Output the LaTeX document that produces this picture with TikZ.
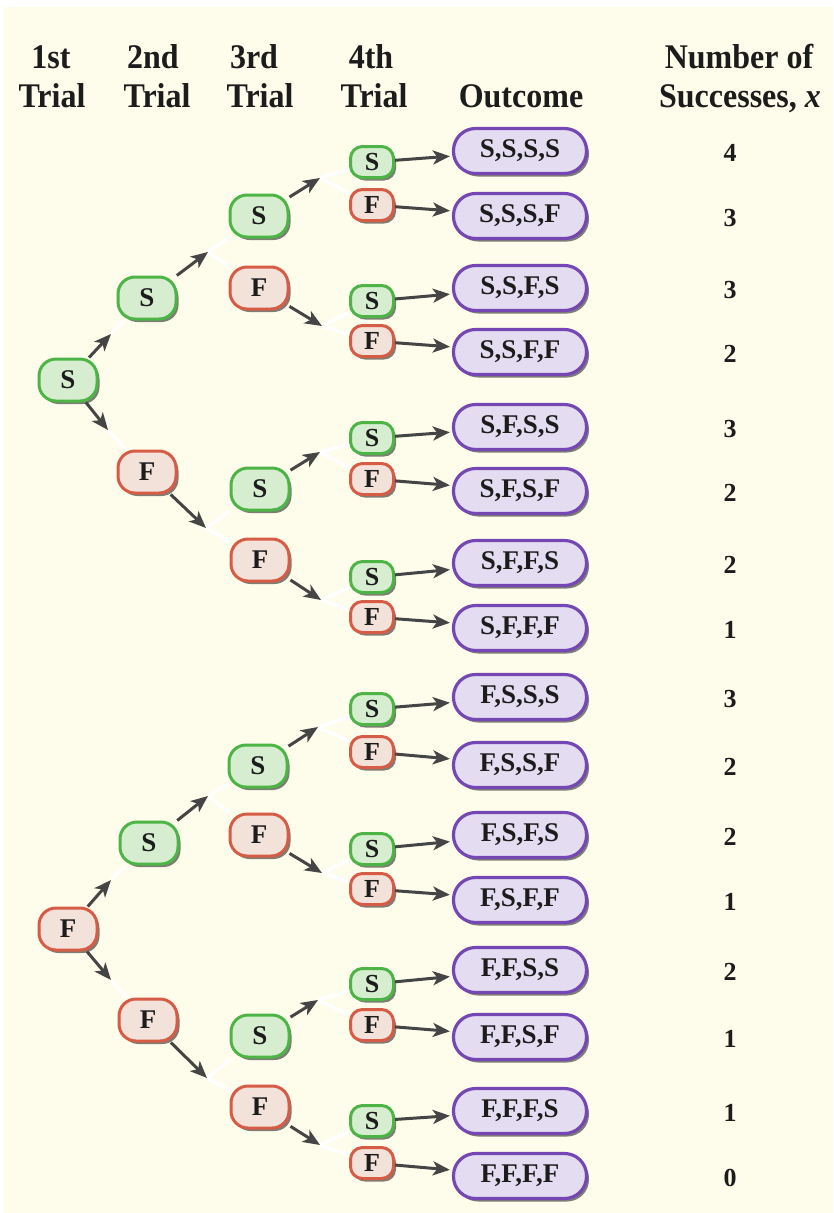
\documentclass[tikz,border=0pt]{standalone}
\usepackage{fontspec}
\setmainfont{Liberation Serif}
\usetikzlibrary{arrows.meta,shadows}
\definecolor{bg}{HTML}{FEFCEB}
\definecolor{gborder}{HTML}{4DB545}
\definecolor{gfill}{HTML}{D6EDD0}
\definecolor{rborder}{HTML}{D65C45}
\definecolor{rfill}{HTML}{F2E2DA}
\definecolor{pborder}{HTML}{7447B3}
\definecolor{pfill}{HTML}{E4DDF2}
\definecolor{txt}{HTML}{1C1C1C}
\definecolor{arrcol}{HTML}{454545}
\newcommand\hdtxt[1]{\scalebox{1}[1.08]{#1}}
\begin{document}
\begin{tikzpicture}[x=1pt,y=-1pt,
  box/.style={line width=3pt, inner sep=0pt, text=txt,
    font=\bfseries\fontsize{27}{29}\selectfont,
    drop shadow={shadow xshift=2.5pt,shadow yshift=-3pt,fill=black,opacity=.5}},
  bigbox/.style={box, minimum width=58pt, minimum height=42pt, rounded corners=17pt},
  smallbox/.style={box, minimum width=43pt, minimum height=31pt, rounded corners=12pt,
    font=\bfseries\fontsize{26}{28}\selectfont},
  sn/.style={draw=gborder, fill=gfill},
  fn/.style={draw=rborder, fill=rfill},
  outc/.style={box, draw=pborder, fill=pfill, minimum width=133pt, minimum height=45pt,
    rounded corners=22pt, line width=3.2pt, font=\bfseries\fontsize{27}{29}\selectfont},
  numtxt/.style={text=txt, font=\bfseries\fontsize{26}{28}\selectfont},
  hdr/.style={text=txt, anchor=base, inner sep=0pt, font=\bfseries\fontsize{32}{36}\selectfont},
  arr/.style={draw=arrcol, line width=3pt, -{Stealth[length=17pt,width=14pt,inset=4.5pt]}},
  wl/.style={draw=white, line width=3.5pt}
]
\useasboundingbox (0,0) rectangle (833,1213);
\fill[white] (0,0) rectangle (833,1213);
\fill[bg] (4,7) rectangle (833,1213);

% headers
\node[hdr] (h1a) at (51,68) {\hdtxt{1st}};
\node[hdr] (h1b) at (52,107) {\hdtxt{Trial}};
\node[hdr] (h2a) at (153,68) {\hdtxt{2nd}};
\node[hdr] (h2b) at (157,107) {\hdtxt{Trial}};
\node[hdr] (h3a) at (254,68) {\hdtxt{3rd}};
\node[hdr] (h3b) at (260,107) {\hdtxt{Trial}};
\node[hdr] (h4a) at (371,68) {\hdtxt{4th}};
\node[hdr] (h4b) at (374,107) {\hdtxt{Trial}};
\node[hdr] (h5) at (521,107) {\hdtxt{Outcome}};
\node[hdr] (h6a) at (739,68) {\hdtxt{Number of}};
\node[hdr] (h6b) at (740,107) {\hdtxt{Successes, \textit{x}}};

% level 1
\node[bigbox,sn] (a1) at (68,380) {S};
\node[bigbox,fn] (a2) at (68,929) {F};
% level 2
\node[bigbox,sn] (b1) at (147,298) {S};
\node[bigbox,fn] (b2) at (147,472) {F};
\node[bigbox,sn] (b3) at (149,843) {S};
\node[bigbox,fn] (b4) at (148,1020) {F};
% level 3
\node[bigbox,sn] (c1) at (259,216) {S};
\node[bigbox,fn] (c2) at (259,288) {F};
\node[bigbox,sn] (c3) at (260,489) {S};
\node[bigbox,fn] (c4) at (260,560) {F};
\node[bigbox,sn] (c5) at (258,766) {S};
\node[bigbox,fn] (c6) at (259,835) {F};
\node[bigbox,sn] (c7) at (260,1036) {S};
\node[bigbox,fn] (c8) at (260,1107) {F};
% level 4
\node[smallbox,sn] (d1) at (372,162) {S};
\node[smallbox,fn] (d2) at (372,205) {F};
\node[smallbox,sn] (d3) at (372,301) {S};
\node[smallbox,fn] (d4) at (372,341) {F};
\node[smallbox,sn] (d5) at (372,438) {S};
\node[smallbox,fn] (d6) at (372,479) {F};
\node[smallbox,sn] (d7) at (372,577) {S};
\node[smallbox,fn] (d8) at (372,617) {F};
\node[smallbox,sn] (d9) at (372,709) {S};
\node[smallbox,fn] (d10) at (372,752) {F};
\node[smallbox,sn] (d11) at (372,849) {S};
\node[smallbox,fn] (d12) at (372,889) {F};
\node[smallbox,sn] (d13) at (372,984) {S};
\node[smallbox,fn] (d14) at (372,1025) {F};
\node[smallbox,sn] (d15) at (372,1121) {S};
\node[smallbox,fn] (d16) at (372,1163) {F};

% outcomes and numbers
\foreach \i/\y/\t/\n in {1/151/{S,S,S,S}/4, 2/216/{S,S,S,F}/3, 3/288/{S,S,F,S}/3, 4/352/{S,S,F,F}/2,
  5/427/{S,F,S,S}/3, 6/491/{S,F,S,F}/2, 7/563/{S,F,F,S}/2, 8/628/{S,F,F,F}/1,
  9/697/{F,S,S,S}/3, 10/765/{F,S,S,F}/2, 11/835/{F,S,F,S}/2, 12/900/{F,S,F,F}/1,
  13/970/{F,F,S,S}/2, 14/1037/{F,F,S,F}/1, 15/1111/{F,F,F,S}/1, 16/1176/{F,F,F,F}/0}{
  \node[outc] (o\i) at (520,\y) {\t};
  \node[numtxt] (n\i) at (730,\y+2) {\n};
}

% fork points
\coordinate (fa1) at (111,334);
\coordinate (fa2) at (108,430);
\coordinate (fa3) at (111,880);
\coordinate (fa4) at (111,980);
\coordinate (fb1) at (208,252);
\coordinate (fb2) at (206,528);
\coordinate (fb3) at (208,796);
\coordinate (fb4) at (207,1078);
\coordinate (fc1) at (320,178);
\coordinate (fc2) at (322,326);
\coordinate (fc3) at (320,452);
\coordinate (fc4) at (321,600);
\coordinate (fc5) at (318,727);
\coordinate (fc6) at (322,873);
\coordinate (fc7) at (318,1000);
\coordinate (fc8) at (320,1145);

% white continuation lines
\draw[wl] (fa1) -- (b1);
\draw[wl] (fa2) -- (b2);
\draw[wl] (fa3) -- (b3);
\draw[wl] (fa4) -- (b4);
\draw[wl] (fb1) -- (c1); \draw[wl] (fb1) -- (c2);
\draw[wl] (fb2) -- (c3); \draw[wl] (fb2) -- (c4);
\draw[wl] (fb3) -- (c5); \draw[wl] (fb3) -- (c6);
\draw[wl] (fb4) -- (c7); \draw[wl] (fb4) -- (c8);
\draw[wl] (fc1) -- (d1); \draw[wl] (fc1) -- (d2);
\draw[wl] (fc2) -- (d3); \draw[wl] (fc2) -- (d4);
\draw[wl] (fc3) -- (d5); \draw[wl] (fc3) -- (d6);
\draw[wl] (fc4) -- (d7); \draw[wl] (fc4) -- (d8);
\draw[wl] (fc5) -- (d9); \draw[wl] (fc5) -- (d10);
\draw[wl] (fc6) -- (d11); \draw[wl] (fc6) -- (d12);
\draw[wl] (fc7) -- (d13); \draw[wl] (fc7) -- (d14);
\draw[wl] (fc8) -- (d15); \draw[wl] (fc8) -- (d16);

% arrows
\draw[arr] (a1) -- (fa1);
\draw[arr] (a1) -- (fa2);
\draw[arr] (a2) -- (fa3);
\draw[arr] (a2) -- (fa4);
\draw[arr] (b1) -- (fb1);
\draw[arr] (b2) -- (fb2);
\draw[arr] (b3) -- (fb3);
\draw[arr] (b4) -- (fb4);
\draw[arr] (c1) -- (fc1);
\draw[arr] (c2) -- (fc2);
\draw[arr] (c3) -- (fc3);
\draw[arr] (c4) -- (fc4);
\draw[arr] (c5) -- (fc5);
\draw[arr] (c6) -- (fc6);
\draw[arr] (c7) -- (fc7);
\draw[arr] (c8) -- (fc8);
\foreach \i in {1,...,16}{
  \draw[arr, shorten >=2pt] (d\i) -- (o\i);
}
\end{tikzpicture}
\end{document}
